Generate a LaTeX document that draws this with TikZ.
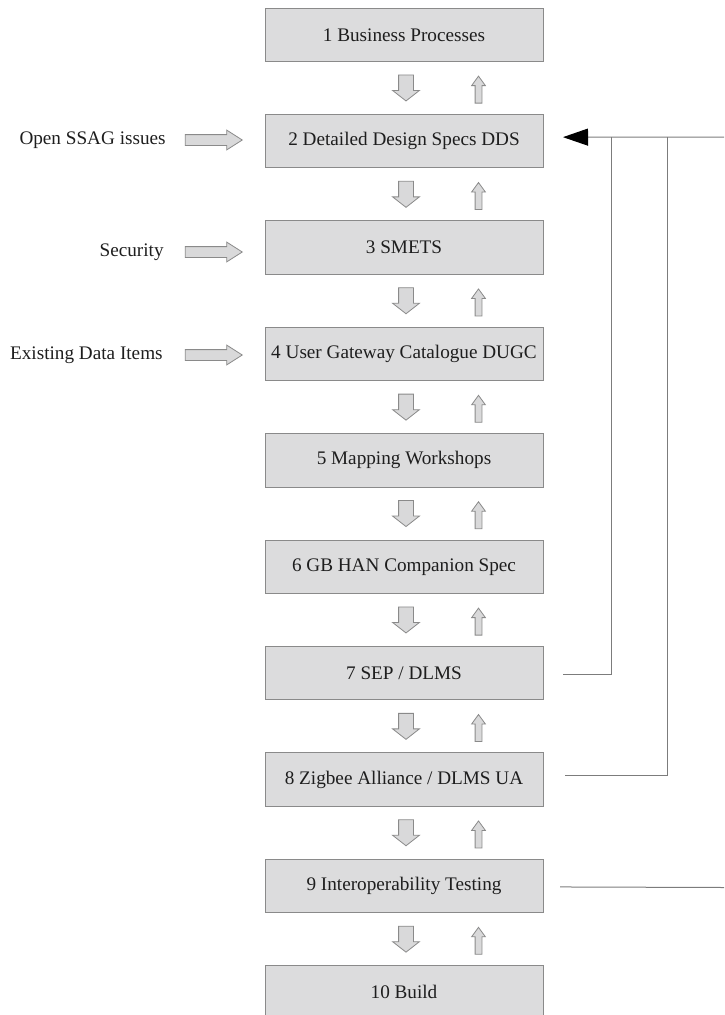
\documentclass[tikz,border=0pt]{standalone}
\usepackage{fontspec}
\setmainfont{Liberation Serif}
\usepackage{tikz}
\usetikzlibrary{positioning,calc}
\usetikzlibrary{shapes.arrows}
\usetikzlibrary{arrows.meta}
\definecolor{boxfill}{HTML}{DCDCDD}
\definecolor{boxline}{HTML}{8A8A8A}
\definecolor{arrfill}{HTML}{D9D9DA}
\definecolor{linkline}{HTML}{7C7C7C}
\definecolor{inktext}{HTML}{1E1E1E}

\tikzset{
	stage/.style={draw=boxline, fill=boxfill, line width=1pt, minimum width=278pt, minimum height=53.5pt, inner sep=0pt, outer sep=0pt, text=inktext, font=\fontsize{19.2}{23}\selectfont},
	downarr/.style={single arrow, draw=boxline, fill=arrfill, line width=0.8pt, rotate=-90, anchor=tip, minimum height=26pt, minimum width=26pt, inner xsep=0pt, inner ysep=7pt, single arrow head extend=6pt, single arrow tip angle=104},
	uparr/.style={single arrow, draw=boxline, fill=arrfill, line width=0.8pt, rotate=90, anchor=tip, minimum height=27pt, minimum width=13pt, inner xsep=0pt, inner ysep=3pt, single arrow head extend=3.5pt, single arrow tip angle=72},
	inarr/.style={single arrow, draw=boxline, fill=arrfill, line width=0.8pt, anchor=tip, minimum height=57pt, minimum width=19pt, inner xsep=0pt, inner ysep=5pt, single arrow head extend=4.5pt, single arrow tip angle=65},
	inlabel/.style={inner sep=0pt, text=inktext, font=\fontsize{19.2}{23}\selectfont},
	feedback/.style={draw=linkline, line width=1pt}
}

\begin{document}
\begin{tikzpicture}[x=1pt, y=-1pt]
	\useasboundingbox (0,0) rectangle (724,1015);
	\clip (0,0) rectangle (724,1015);

	\node[stage] (b1) at (404,34.75) {1 Business Processes};
	\node[stage, below=52.9pt of b1] (b2) {2 Detailed Design Specs DDS};
	\node[stage, below=52.9pt of b2] (b3) {3 SMETS};
	\node[stage, below=52.9pt of b3] (b4) {4 User Gateway Catalogue DUGC};
	\node[stage, below=52.9pt of b4] (b5) {5 Mapping Workshops};
	\node[stage, below=52.9pt of b5] (b6) {6 GB HAN Companion Spec};
	\node[stage, below=52.9pt of b6] (b7) {7 SEP / DLMS};
	\node[stage, below=52.9pt of b7] (b8) {8 Zigbee Alliance / DLMS UA};
	\node[stage, below=52.9pt of b8] (b9) {9 Interoperability Testing};
	\node[stage, below=52.9pt of b9] (b10) {10 Build};

	\foreach \i [evaluate=\i as \j using int(\i+1)] in {1,...,9} {
		\node[downarr] (down\i) at ($(b\i.south)!0.5!(b\j.north)+(2,13.5)$) {};
		\node[uparr] (up\i) at ($(b\i.south)!0.5!(b\j.north)+(74.5,-12.5)$) {};
	}

	\node[inarr] (in2) at (243,140) {};
	\node[inarr] (in3) at (243,252) {};
	\node[inarr] (in4) at (243,355) {};
	\node[inlabel, left=19pt of in2.west, anchor=east] (issues) {Open SSAG issues};
	\node[inlabel, left=21pt of in3.west, anchor=east] (security) {Security};
	\node[inlabel, left=22pt of in4.west, anchor=east] (items) {Existing Data Items};

	\coordinate (t2) at ($(b2.east)+(20,-4)$);
	\coordinate (e2) at (724,137);
	\coordinate (k7) at ($(b7.east)+(20,1)$);
	\coordinate (k8) at ($(b8.east)+(22,-4.5)$);
	\coordinate (k9) at ($(b9.east)+(17,1)$);
	\coordinate (e9) at (724,887.5);
	\draw[feedback, -{Triangle[length=25pt, width=17pt, color=black]}] (e2) -- (t2);
	\draw[feedback] (k7) -| ($(t2)+(48,0)$);
	\draw[feedback] (k8) -| ($(t2)+(104,0)$);
	\draw[feedback] (k9) -- (e9);
\end{tikzpicture}
\end{document}
